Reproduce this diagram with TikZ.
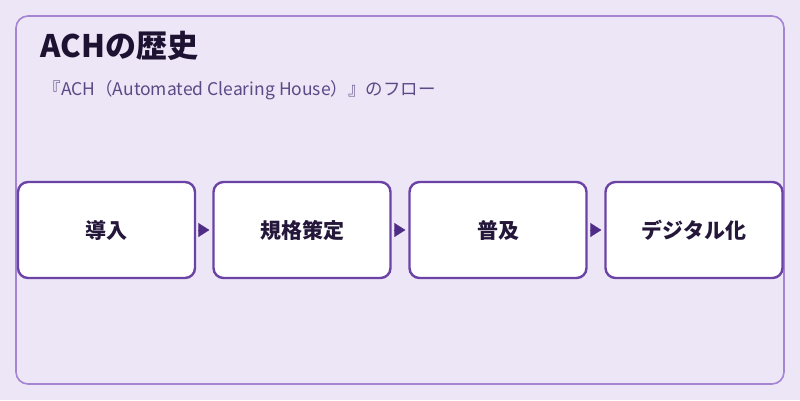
\documentclass[tikz,border=0pt]{standalone}
\usepackage{fontspec}
\setmainfont{Noto Sans CJK JP}
\usepackage{tikz}
\usetikzlibrary{arrows.meta, positioning}
\definecolor{bgpage}{HTML}{EDE6F6}
\definecolor{frameline}{HTML}{A385D3}
\definecolor{boxline}{HTML}{6B43A6}
\definecolor{arrowfill}{HTML}{4F2D86}
\definecolor{titletext}{HTML}{1E1233}
\definecolor{subtext}{HTML}{5B4A85}
\definecolor{steptext}{HTML}{24173A}

\begin{document}
\begin{tikzpicture}[x=1pt, y=-1pt,
                stepbox/.style={
                  draw=boxline, fill=white, line width=2.4pt, rounded corners=10pt,
                  minimum width=177pt, minimum height=96pt, inner sep=0pt,
                  font=\fontsize{21}{25}\selectfont\bfseries, text=steptext
                },
                flowarrow/.style={
                  draw=arrowfill, line width=0.1pt, shorten <=2pt, shorten >=3pt,
                  -{Triangle[length=11pt, width=14pt, fill=arrowfill]}
                }
              ]
              % page and frame
              \fill[bgpage] (0,0) rectangle (800,400);
              \draw[frameline, line width=1.6pt, rounded corners=12pt] (16,16) rectangle (784,384);
              \node[anchor=west, text=titletext, font=\fontsize{31}{35}\selectfont\bfseries] (title) at (37,46) {ACHの歴史};
              \node[anchor=west, text=subtext, font=\fontsize{17.5}{21}\selectfont] (subtitle) at (40,90) {『ACH（Automated Clearing House）』のフロー};
              % the four steps
              \node[stepbox] (intro) at (106.5,230) {導入};
              \node[stepbox] (spec) at (302,230) {規格策定};
              \node[stepbox] (spread) at (498,230) {普及};
              \node[stepbox] (digital) at (694,230) {デジタル化};
              \draw[flowarrow] (intro) -- (spec);
              \draw[flowarrow] (spec) -- (spread);
              \draw[flowarrow] (spread) -- (digital);
            \end{tikzpicture}
\end{document}
